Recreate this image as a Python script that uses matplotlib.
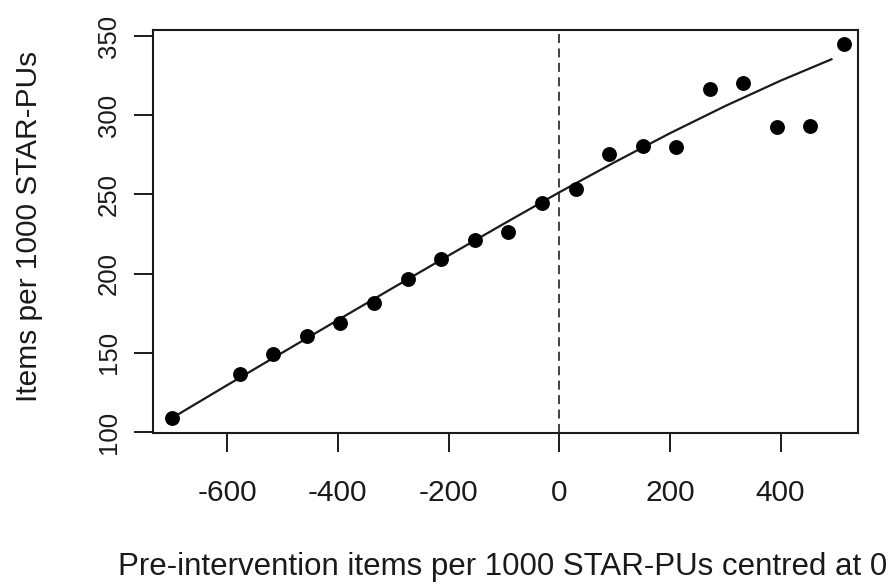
import matplotlib
matplotlib.use("Agg")
import matplotlib.pyplot as plt

x_pts = [-699, -577, -517, -455, -396, -335, -274, -214, -153, -93, -31,
         30, 90, 151, 211, 272, 333, 394, 453, 515]
y_pts = [109.1, 136.4, 149.4, 160.6, 169.0, 181.6, 196.4, 209.2, 221.2, 226.3, 244.8,
         253.2, 275.3, 280.8, 280.1, 316.3, 320.1, 292.6, 293.4, 344.9]

# Fitted curve
x_fit = [-699, -600, -500, -400, -300, -200, -100, 0, 100, 200, 300, 400, 492]
y_fit = [109.0, 129.6, 150.2, 170.7, 191.1, 211.4, 231.5, 251.3, 270.3, 288.6, 305.8, 321.8, 335.3]

x_ticks = [-600, -400, -200, 0, 200, 400]
y_ticks = [100, 150, 200, 250, 300, 350]

xlabel = "Pre-intervention items per 1000 STAR-PUs centred at 0"
ylabel = "Items per 1000 STAR-PUs"

plt.rcParams['font.family'] = ['Liberation Sans', 'DejaVu Sans']

W, H = 894, 586
fig = plt.figure(figsize=(W / 100, H / 100), dpi=100)
ax = fig.add_axes([153 / W, 1 - 433 / H, (858 - 153) / W, (433 - 30) / H])

ink = "#1a1a1a"
ax.plot(x_fit, y_fit, color=ink, lw=1.6, zorder=2)
ax.scatter(x_pts, y_pts, s=115, color="black", zorder=3, linewidths=0)
ax.axvline(0, color="#333333", lw=1.3, linestyle=(0, (5, 3)), zorder=1)

ax.set_xlim(-734, 540)
ax.set_ylim(99.4, 353.8)
ax.set_xticks(x_ticks)
ax.set_yticks(y_ticks)
ax.set_xticklabels([str(v) for v in x_ticks], fontsize=21.5, color=ink)
ax.set_yticklabels([str(v) for v in y_ticks], fontsize=18.5, color=ink,
                   rotation=90, va="center")
ax.tick_params(axis="both", direction="out", length=14, width=1.4, color=ink)
ax.tick_params(axis="x", pad=19)
ax.tick_params(axis="y", pad=9)
for s in ax.spines.values():
    s.set_linewidth(1.5)
    s.set_color(ink)

ax.set_xlabel(xlabel, fontsize=22.5, color=ink)
ax.xaxis.set_label_coords((503 - 153) / (858 - 153), -(567 - 433) / (433 - 30))
ax.xaxis.label.set_va("center")
ax.set_ylabel(ylabel, fontsize=21.5, color=ink)
ax.yaxis.set_label_coords(-(153 - 29) / (858 - 153), (433 - 226) / (433 - 30))
ax.yaxis.label.set_va("center")

fig.savefig("out.png", dpi=100)
